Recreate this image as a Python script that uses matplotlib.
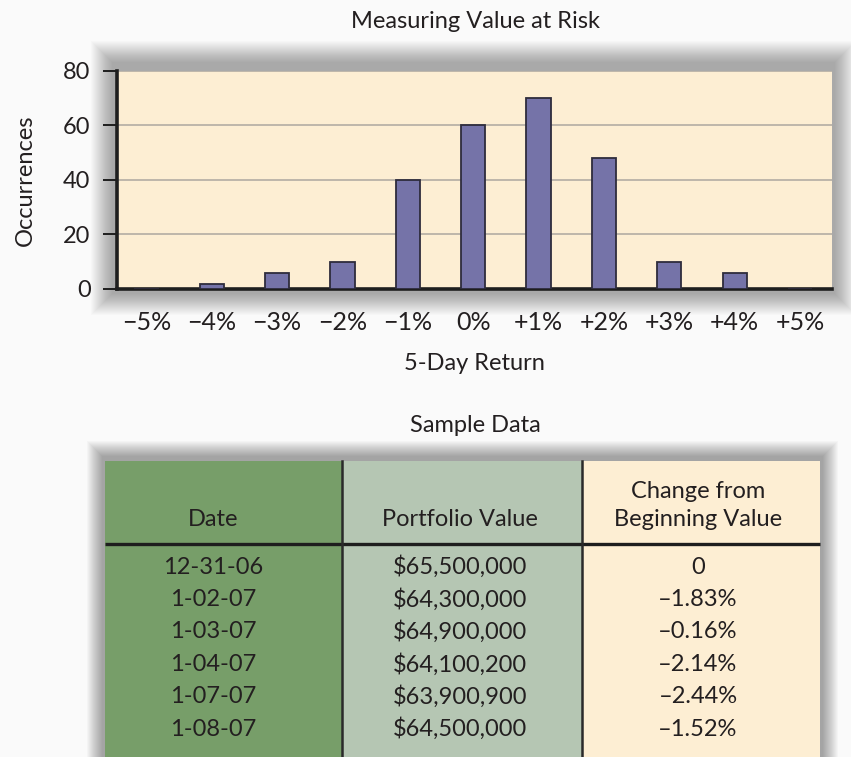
import matplotlib
matplotlib.use("Agg")
import matplotlib.pyplot as plt
from matplotlib.patches import Rectangle

plt.rcParams['font.family'] = ['Lato', 'DejaVu Sans']

# ---------------- data ----------------
returns = ["\u22125%", "\u22124%", "\u22123%", "\u22122%", "\u22121%", "0%",
           "+1%", "+2%", "+3%", "+4%", "+5%"]
occurrences = [0, 2, 6, 10, 40, 60, 70, 48, 10, 6, 0]
y_ticks = [0, 20, 40, 60, 80]

dates = ["12-31-06", "1-02-07", "1-03-07", "1-04-07", "1-07-07", "1-08-07"]
portfolio_values = ["$65,500,000", "$64,300,000", "$64,900,000",
                    "$64,100,200", "$63,900,900", "$64,500,000"]
changes = ["0", "\u20131.83%", "\u20130.16%", "\u20132.14%", "\u20132.44%", "\u20131.52%"]
headers = ["Date", "Portfolio Value", "Change from\nBeginning Value"]

# ---------------- layout ----------------
W, H = 851, 757
fig = plt.figure(figsize=(W / 100, H / 100), dpi=100)
fig.patch.set_facecolor('#FAFAFA')
TXT = '#231F20'
FS = 17

bg = fig.add_axes([0, 0, 1, 1], zorder=0)
bg.set_xlim(0, W)
bg.set_ylim(H, 0)
bg.axis('off')


def shadow(x0, y0, x1, y1, spread=22, alpha=0.014):
    for k in range(spread, 0, -1):
        bg.add_patch(Rectangle((x0 - k, y0 - k), (x1 - x0) + 2 * k, (y1 - y0) + 2 * k,
                               facecolor='black', edgecolor='none', alpha=alpha))


# chart area in pixels
L, R, T, B = 117, 832, 71, 289
shadow(L - 4, T - 8, R + 2, B + 4)

ax = fig.add_axes([L / W, 1 - B / H, (R - L) / W, (B - T) / H], zorder=1)
ax.set_facecolor('#FDEED3')
x = list(range(len(returns)))
ax.bar(x, occurrences, width=0.37, color='#7573A8', edgecolor='#2E2C3C',
       linewidth=1.3, zorder=3)
ax.set_xlim(-0.45, 10.49)
ax.set_ylim(0, 80)
ax.set_yticks(y_ticks)
ax.set_xticks(x)
ax.set_xticklabels(returns, fontsize=18)
ax.yaxis.grid(True, color='#B3ADA3', linewidth=1.2, zorder=0)
ax.set_axisbelow(True)
for s in ['top', 'right']:
    ax.spines[s].set_visible(False)
for s in ['left', 'bottom']:
    ax.spines[s].set_linewidth(2.6)
    ax.spines[s].set_color('#1E1E1E')
ax.tick_params(axis='y', length=10, width=1.4, color='#1E1E1E', pad=9,
               labelsize=FS, labelcolor=TXT)
ax.tick_params(axis='x', length=0, pad=16, labelcolor=TXT)

fig.text(476 / W, 1 - 22 / H, "Measuring Value at Risk", ha='center', va='center',
         fontsize=FS, color=TXT)
fig.text(474 / W, 1 - 363 / H, "5-Day Return", ha='center', va='center',
         fontsize=FS, color=TXT)
fig.text(25 / W, 1 - 180 / H, "Occurrences", ha='center', va='center',
         rotation=90, fontsize=FS, color=TXT)
fig.text(475 / W, 1 - 425 / H, "Sample Data", ha='center', va='center',
         fontsize=FS, color=TXT)

# ---------------- table ----------------
cols = [105, 342, 582, 820]
ttop, hline, tbot = 461, 544, 760
shadow(cols[0] - 2, ttop - 4, cols[-1] + 2, tbot, spread=16, alpha=0.022)
col_colors = ['#779E69', '#B5C6B3', '#FDEED3']
for i, c in enumerate(col_colors):
    bg.add_patch(Rectangle((cols[i], ttop), cols[i + 1] - cols[i], tbot - ttop,
                           facecolor=c, edgecolor='none', zorder=2))
bg.plot([cols[0], cols[-1]], [hline, hline], color='#1E1E1E', lw=2.4, zorder=3,
        solid_capstyle='butt')
for cx in cols[1:3]:
    bg.plot([cx, cx], [ttop, tbot], color='#2A2A2A', lw=1.8, zorder=3)

centers = [213, 460, 698]
bg.text(centers[0], 520, headers[0], ha='center', va='center', fontsize=FS, color=TXT, zorder=4)
bg.text(centers[1], 520, headers[1], ha='center', va='center', fontsize=FS, color=TXT, zorder=4)
h3a, h3b = headers[2].split("\n")
bg.text(centers[2], 492, h3a, ha='center', va='center', fontsize=FS, color=TXT, zorder=4)
bg.text(centers[2], 520, h3b, ha='center', va='center', fontsize=FS, color=TXT, zorder=4)

row_y0, row_dy = 567, 32.4
for r, (d, p, c) in enumerate(zip(dates, portfolio_values, changes)):
    yy = row_y0 + r * row_dy
    for cx, t in zip(centers, (d, p, c)):
        bg.text(cx, yy, t, ha='center', va='center', fontsize=FS, color=TXT, zorder=4)

fig.savefig("out.png", dpi=100, facecolor=fig.get_facecolor())
